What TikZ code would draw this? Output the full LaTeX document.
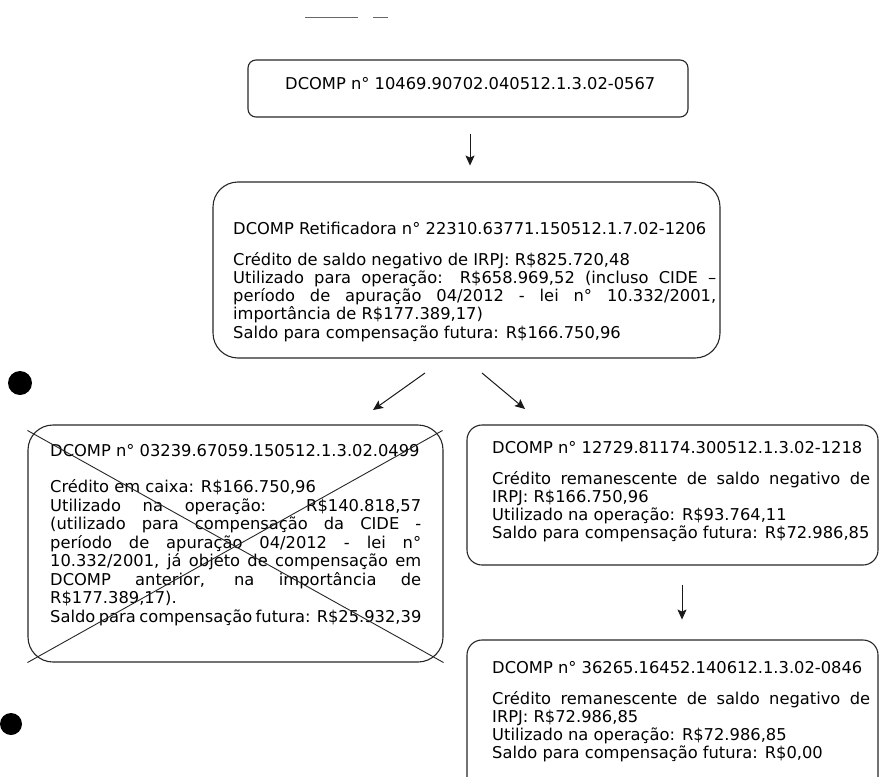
\documentclass[tikz,border=0pt]{standalone}
\usepackage{fontspec}
\setmainfont{DejaVu Sans}
\usetikzlibrary{arrows.meta}
\newcommand{\jl}[1]{\makebox[\linewidth][s]{#1}}
\newcommand{\boxfont}{\fontsize{16.3}{18.3}\selectfont}
\newcommand{\nro}{n°}
\begin{document}
\begin{tikzpicture}[x=1pt,y=-1pt,
  box/.style={draw=black!85, line width=1.1pt, inner sep=0pt, rectangle},
  txt/.style={anchor=base west, inner sep=0pt},
  arr/.style={-{Stealth[length=10pt,width=9pt,inset=2pt]}, line width=1pt, black!90},
  cross/.style={line width=0.9pt, black!85}]
\useasboundingbox (0,0) rectangle (880,776);
\clip (0,0) rectangle (880,776);
% scan marks
\draw[black!60, line width=1pt] (305,18) -- (358,18);
\draw[black!60, line width=1pt] (373,18) -- (388,18);
\fill (20,383) circle[radius=12pt];
\fill (11,724) circle[radius=11pt];
% boxes
\node[box, rounded corners=8pt, minimum width=440pt, minimum height=57pt] (b1) at (468,88.5) {};
\node[box, rounded corners=25pt, minimum width=507pt, minimum height=176pt] (b2) at (466.5,270) {};
\node[box, rounded corners=25pt, minimum width=415pt, minimum height=237pt] (b3) at (235.5,543.5) {};
\node[box, rounded corners=15pt, minimum width=411pt, minimum height=140pt] (b4) at (672.5,495) {};
\node[box, rounded corners=15pt, minimum width=411pt, minimum height=170pt] (b5) at (672.5,725) {};
% texts
\node[txt] (t1) at (285,89) {\boxfont DCOMP \nro{} 10469.90702.040512.1.3.02-0567};
\node[txt] (t2) at (233,234) {\parbox[t]{483pt}{\boxfont
DCOMP Retificadora \nro{} 22310.63771.150512.1.7.02-1206\\[12.7pt]
Crédito de saldo negativo de IRPJ: R\$825.720,48\\
\jl{Utilizado para operação: R\$658.969,52 (incluso CIDE –}\\
\jl{período de apuração 04/2012 - lei \nro{} 10.332/2001,}\\
importância de R\$177.389,17)\\
Saldo para compensação futura: R\$166.750,96}};
\node[txt] (t3) at (50,456) {\parbox[t]{371pt}{\fontsize{16.3}{18.5}\selectfont
DCOMP \nro{} 03239.67059.150512.1.3.02.0499\\[18.2pt]
Crédito em caixa: R\$166.750,96\\
\jl{Utilizado na operação: R\$140.818,57}\\
\jl{(utilizado para compensação da CIDE -}\\
\jl{período de apuração 04/2012 - lei \nro}\\
\jl{10.332/2001, já objeto de compensação em}\\
\jl{DCOMP anterior, na importância de}\\
R\$177.389,17).\\
\jl{Saldo para compensação futura: R\$25.932,39}}};
\node[txt] (t4) at (492,453) {\parbox[t]{378pt}{\boxfont
DCOMP \nro{} 12729.81174.300512.1.3.02-1218\\[12.7pt]
\jl{Crédito remanescente de saldo negativo de}\\
IRPJ: R\$166.750,96\\
Utilizado na operação: R\$93.764,11\\
Saldo para compensação futura: R\$72.986,85}};
\node[txt] (t5) at (492,673) {\parbox[t]{378pt}{\boxfont
DCOMP \nro{} 36265.16452.140612.1.3.02-0846\\[12.7pt]
\jl{Crédito remanescente de saldo negativo de}\\
IRPJ: R\$72.986,85\\
Utilizado na operação: R\$72.986,85\\
Saldo para compensação futura: R\$0,00}};
% cross over left box
\draw[cross] ([yshift=-6pt]b3.north west) -- (b3.south east);
\draw[cross] ([xshift=-1pt,yshift=-6pt]b3.north east) -- (b3.south west);
% connectors
\coordinate (a2s) at (425,373);
\coordinate (a2e) at (373,410);
\coordinate (a3s) at (482,373);
\coordinate (a3e) at (525,409);
\draw[arr] ([xshift=2pt,yshift=-16pt]b1.south) -- ++(0,32);
\draw[arr] (a2s) -- (a2e);
\draw[arr] (a3s) -- (a3e);
\draw[arr] ([xshift=9.5pt,yshift=-19pt]b4.south) -- ++(0,35);
\end{tikzpicture}
\end{document}
